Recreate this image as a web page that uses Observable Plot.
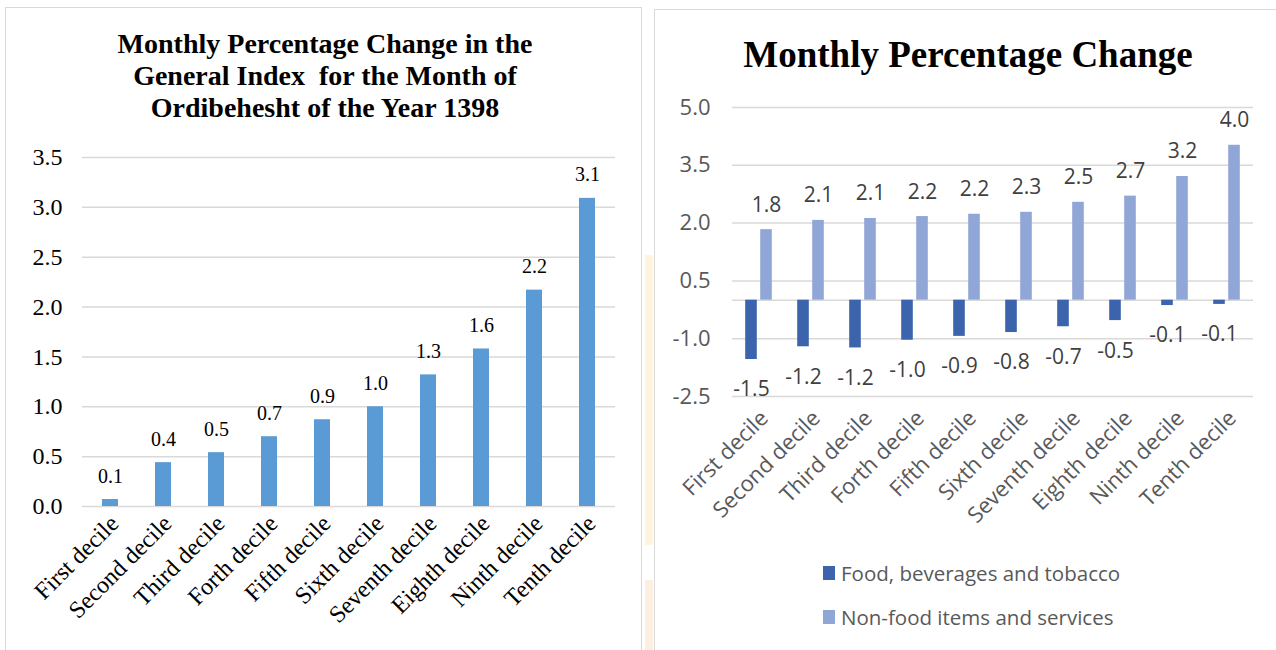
<!DOCTYPE html>
<html><head><meta charset="utf-8">
<script src="https://cdn.jsdelivr.net/npm/d3@7"></script>
<script src="https://cdn.jsdelivr.net/npm/@observablehq/plot@0.6"></script>
<style>
body{margin:0;background:#fff;width:1276px;height:650px;overflow:hidden;position:relative;}
.abs{position:absolute}
.ttl{font-family:"Liberation Serif","Times New Roman",serif;font-weight:bold;color:#000;text-align:center;white-space:nowrap}
.leg{font-family:"Open Sans",sans-serif;font-size:20.5px;color:#595959;display:flex;align-items:center;white-space:nowrap}
.sw{width:12px;height:14px;margin-right:6px;display:inline-block}
</style></head><body>
<div class="abs" style="left:645px;top:255px;width:8px;height:290px;background:#fff4dc"></div>
<div class="abs" style="left:645px;top:580px;width:8px;height:70px;background:#fdeee2"></div>
<div class="abs" style="left:5px;top:7px;width:637px;height:700px;border:1.5px solid #d9d9d9;box-sizing:border-box"></div>
<div class="abs" style="left:654px;top:9px;width:700px;height:700px;border:1.5px solid #d9d9d9;box-sizing:border-box"></div>
<div class="abs ttl" style="left:6px;top:28px;width:638px;font-size:28px;line-height:32px">Monthly Percentage Change in the<br>General Index&nbsp; for the Month of<br>Ordibehesht of the Year 1398</div>
<div class="abs ttl" style="left:654px;top:33px;width:628px;font-size:37px;line-height:44px">Monthly Percentage Change</div>
<div id="left" class="abs" style="left:0px;top:140px"></div>
<div id="right" class="abs" style="left:654px;top:90px"></div>
<div class="abs" style="left:823px;top:560px">
  <div class="leg" style="height:26px"><span class="sw" id="sw1"></span><span id="lg1"></span></div>
  <div class="leg" style="height:26px;margin-top:18px"><span class="sw" id="sw2"></span><span id="lg2"></span></div>
</div>
<script>
const deciles = ["First decile", "Second decile", "Third decile", "Forth decile", "Fifth decile", "Sixth decile", "Seventh decile", "Eighth decile", "Ninth decile", "Tenth decile"];
const generalIndex = [0.07, 0.44, 0.54, 0.70, 0.87, 1.00, 1.32, 1.58, 2.17, 3.09];
const foodChange = [-1.54, -1.21, -1.24, -1.04, -0.94, -0.84, -0.69, -0.53, -0.14, -0.11];
const nonFoodChange = [1.83, 2.07, 2.12, 2.17, 2.23, 2.28, 2.54, 2.70, 3.21, 4.02];
const seriesNames = ["Food, beverages and tobacco", "Non-food items and services"];
const leftTicks = [0, 0.5, 1.0, 1.5, 2.0, 2.5, 3.0, 3.5];
const rightTicks = [-2.5, -1.0, 0.5, 2.0, 3.5, 5.0];
const colors = {general: "#5b9bd5", food: "#3c64ac", nonfood: "#8fa6d7"};

const fmt = d => d.toFixed(1);
const leftData = deciles.map((d, i) => ({decile: d, value: generalIndex[i]}));
const rightData = deciles.map((d, i) => ({decile: d, food: foodChange[i], nonfood: nonFoodChange[i]}));

const serif = '"Liberation Serif","Times New Roman",serif';
const sans = '"Open Sans",sans-serif';

const left = Plot.plot({
  width: 640, height: 510,
  marginLeft: 82, marginRight: 25, marginTop: 17, marginBottom: 144,
  style: {fontFamily: serif, fontSize: "24px", color: "#000", background: "transparent", overflow: "visible"},
  x: {domain: deciles, paddingInner: 0.7, paddingOuter: 0.35, label: null},
  y: {domain: [0, 3.5], label: null},
  marks: [
    Plot.gridY(leftTicks, {stroke: "#d9d9d9", strokeOpacity: 1, strokeWidth: 1.5}),
    Plot.barY(leftData, {x: "decile", y: "value", fill: colors.general}),
    Plot.text(leftData, {x: "decile", y: "value", text: d => fmt(d.value), dy: -17, lineAnchor: "bottom", fontSize: 20, fill: "#000"}),
    Plot.axisY(leftTicks, {tickSize: 0, tickPadding: 20, tickFormat: fmt, fontSize: 24, label: null}),
    Plot.axisX({tickSize: 0, tickPadding: 13, tickRotate: -45, fontSize: 24, dx: 4, label: null})
  ]
});
document.getElementById("left").appendChild(left);

const right = Plot.plot({
  width: 622, height: 430,
  marginLeft: 78, marginRight: 23, marginTop: 17, marginBottom: 124,
  style: {fontFamily: sans, fontSize: "21px", color: "#595959", background: "transparent", overflow: "visible"},
  x: {domain: deciles, padding: 0, label: null},
  y: {domain: [-2.5, 5.0], label: null},
  marks: [
    Plot.gridY(rightTicks, {stroke: "#d9d9d9", strokeOpacity: 1, strokeWidth: 1.5}),
    Plot.ruleY([0], {stroke: "#d9d9d9", strokeWidth: 1.5}),
    Plot.barY(rightData, {x: "decile", y: "food", fill: colors.food, dx: -8, insetLeft: 20.2, insetRight: 20.2}),
    Plot.barY(rightData, {x: "decile", y: "nonfood", fill: colors.nonfood, dx: 7, insetLeft: 20.2, insetRight: 20.2}),
    Plot.text(rightData, {x: "decile", y: "food", text: d => fmt(d.food), dx: -8, dy: 22, lineAnchor: "top", fontSize: 21, fill: "#404040"}),
    Plot.text(rightData, {x: "decile", y: "nonfood", text: d => fmt(d.nonfood), dx: 7, dy: -18, lineAnchor: "bottom", fontSize: 21, fill: "#404040"}),
    Plot.axisY(rightTicks, {tickSize: 0, tickPadding: 22, tickFormat: fmt, fontSize: 22, label: null}),
    Plot.axisX({tickSize: 0, tickPadding: 18, tickRotate: -45, fontSize: 22, dx: 5, label: null})
  ]
});
document.getElementById("right").appendChild(right);

document.getElementById("sw1").style.background = colors.food;
document.getElementById("sw2").style.background = colors.nonfood;
document.getElementById("lg1").textContent = seriesNames[0];
document.getElementById("lg2").textContent = seriesNames[1];
</script>
</body></html>
